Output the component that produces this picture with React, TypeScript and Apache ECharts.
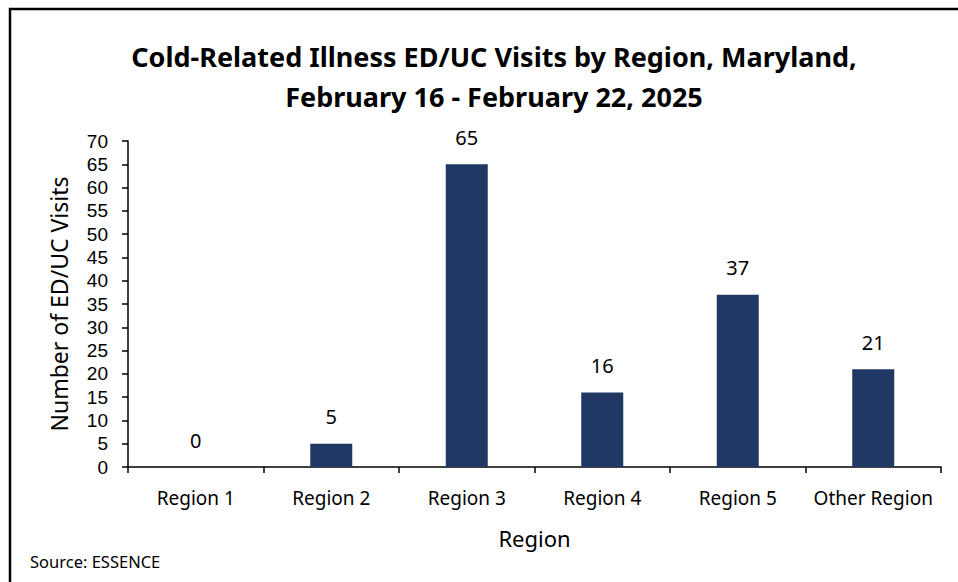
import React, { useEffect, useRef } from "react";
import * as echarts from "echarts";

const categories = ["Region 1", "Region 2", "Region 3", "Region 4", "Region 5", "Other Region"];
const visits = [0, 5, 65, 16, 37, 21];
const titleLines = ["Cold-Related Illness ED/UC Visits by Region, Maryland,", "February 16 - February 22, 2025"];
const yAxisName = "Number of ED/UC Visits";
const xAxisName = "Region";
const sourceText = "Source: ESSENCE";

const FONT = "'Noto Sans', sans-serif";
const TICK_FONT = "'Liberation Sans', 'Noto Sans', sans-serif";

export default function App() {
  const ref = useRef<HTMLDivElement>(null);
  useEffect(() => {
    if (!ref.current) return;
    const chart = echarts.init(ref.current, null, { renderer: "svg" });
    chart.setOption({
      animation: false,
      backgroundColor: "#ffffff",
      title: {
        text: titleLines.join("\n"),
        left: 489,
        top: 31,
        textAlign: "center",
        textStyle: { fontFamily: FONT, fontSize: 27, fontWeight: "bold", color: "#000", lineHeight: 40 },
      },
      graphic: [
        {
          type: "rect",
          shape: { x: 10, y: 9, width: 1000, height: 700 },
          style: { fill: "none", stroke: "#000", lineWidth: 2.5 },
          silent: true,
        },
        {
          type: "text",
          left: 30,
          top: 553,
          style: { text: sourceText, fontFamily: FONT, fontSize: 16.5, fill: "#000" },
        },
      ],
      grid: { left: 128, right: 17, top: 141, bottom: 115, containLabel: false },
      xAxis: {
        type: "category",
        data: categories,
        name: xAxisName,
        nameLocation: "middle",
        nameGap: 60,
        nameTextStyle: { fontFamily: FONT, fontSize: 22, color: "#000" },
        axisLine: { lineStyle: { color: "#000", width: 1.5 } },
        axisTick: { show: true, alignWithLabel: false, length: 6, lineStyle: { color: "#000", width: 1.5 } },
        axisLabel: { interval: 0, fontFamily: FONT, fontSize: 19, color: "#000", margin: 21 },
      },
      yAxis: {
        type: "value",
        min: 0,
        max: 70,
        interval: 5,
        name: yAxisName,
        nameLocation: "middle",
        nameGap: 58,
        nameTextStyle: { fontFamily: FONT, fontSize: 23, color: "#000" },
        axisLine: { show: true, lineStyle: { color: "#000", width: 1.5 } },
        axisTick: { show: true, length: 6, lineStyle: { color: "#000", width: 1.5 } },
        axisLabel: { fontFamily: TICK_FONT, fontSize: 19, lineHeight: 19, color: "#000", margin: 20 },
        splitLine: { show: false },
      },
      series: [
        {
          type: "bar",
          data: visits,
          barWidth: 42,
          itemStyle: { color: "#203864" },
          label: {
            show: true,
            position: "top",
            distance: 17,
            fontFamily: FONT,
            fontSize: 20,
            color: "#000",
          },
        },
      ],
    });
    return () => chart.dispose();
  }, []);
  return (
    <div
      ref={ref}
      style={{ position: "fixed", left: 0, top: 0, width: 958, height: 582 }}
    />
  );
}
